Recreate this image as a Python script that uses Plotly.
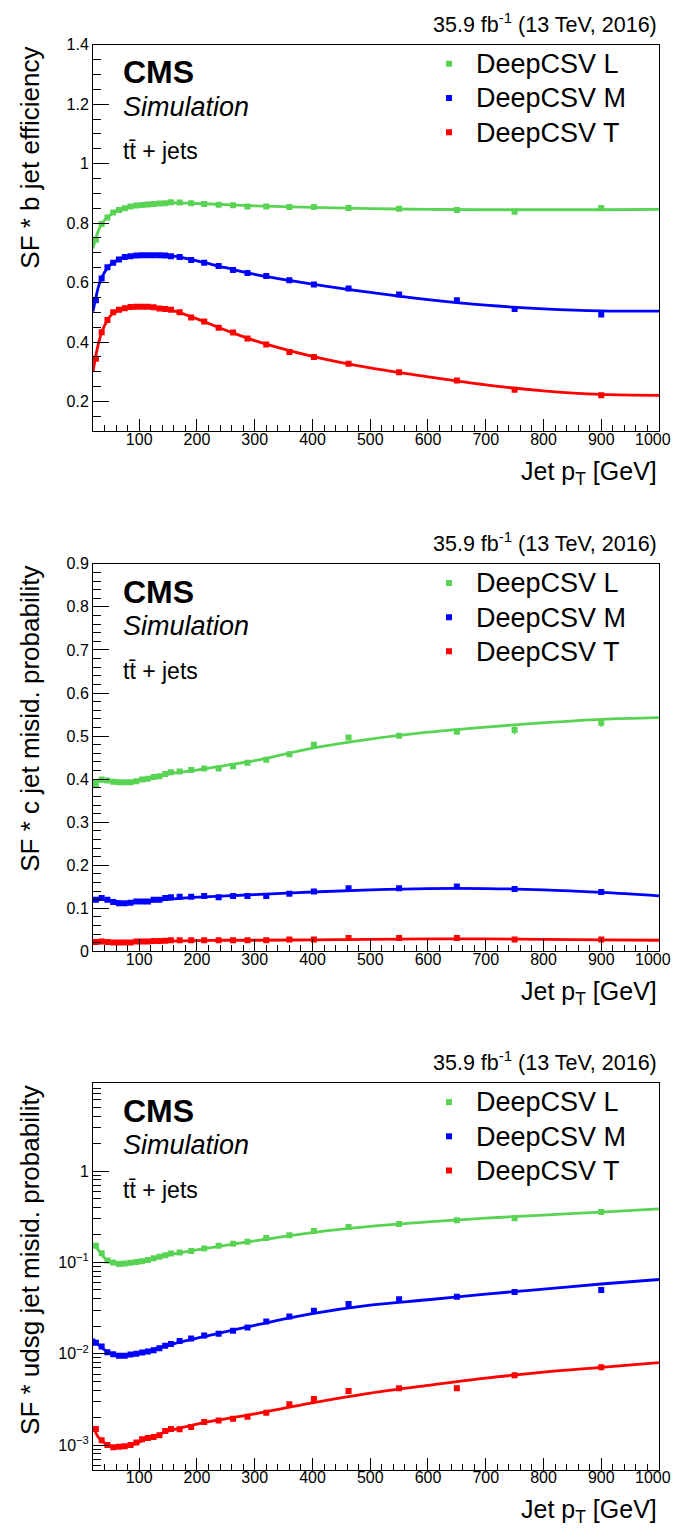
import plotly.graph_objects as go

# pT bin centres (GeV)
pt = [25, 35, 45, 55, 65, 75, 85, 95, 105, 115, 125, 135, 145, 155, 170, 190,
      212.5, 237.5, 262.5, 287.5, 320, 360, 402.5, 462.5, 550, 650, 750, 900]

# SF * b jet efficiency
b_L = [0.744, 0.797, 0.819, 0.836, 0.844, 0.850, 0.856, 0.859, 0.861, 0.863, 0.864, 0.866, 0.867, 0.870,
       0.869, 0.867, 0.864, 0.862, 0.860, 0.856, 0.856, 0.854, 0.854, 0.851, 0.848, 0.844, 0.838, 0.851]
b_M = [0.541, 0.614, 0.652, 0.667, 0.678, 0.686, 0.689, 0.691, 0.692, 0.692, 0.692, 0.692, 0.691, 0.689,
       0.686, 0.676, 0.667, 0.656, 0.642, 0.632, 0.622, 0.608, 0.594, 0.580, 0.560, 0.541, 0.511, 0.493]
b_T = [0.344, 0.433, 0.474, 0.500, 0.509, 0.514, 0.518, 0.519, 0.519, 0.519, 0.517, 0.513, 0.511, 0.509,
       0.500, 0.483, 0.469, 0.448, 0.432, 0.412, 0.392, 0.367, 0.350, 0.327, 0.299, 0.271, 0.240, 0.221]
b_fit_pt = [20, 25, 30, 35, 40, 50, 60, 80, 100, 130, 160, 200, 250, 300, 400, 500, 600, 700, 800, 900, 1000]
b_fit_L = [0.715, 0.750, 0.778, 0.797, 0.810, 0.828, 0.840, 0.853, 0.861, 0.866, 0.868, 0.866, 0.862, 0.858,
           0.853, 0.849, 0.846, 0.845, 0.845, 0.845, 0.846]
b_fit_M = [0.503, 0.550, 0.590, 0.615, 0.635, 0.660, 0.673, 0.688, 0.692, 0.693, 0.689, 0.673, 0.650, 0.628,
           0.595, 0.567, 0.543, 0.524, 0.512, 0.505, 0.504]
b_fit_T = [0.300, 0.355, 0.400, 0.432, 0.455, 0.488, 0.503, 0.515, 0.519, 0.516, 0.505, 0.478, 0.440, 0.405,
           0.352, 0.313, 0.283, 0.256, 0.236, 0.224, 0.221]

# SF * c jet misid. probability
c_L = [0.389, 0.399, 0.397, 0.394, 0.393, 0.393, 0.393, 0.395, 0.399, 0.401, 0.405, 0.407, 0.412, 0.416,
       0.418, 0.421, 0.425, 0.425, 0.430, 0.438, 0.445, 0.458, 0.480, 0.497, 0.501, 0.510, 0.514, 0.531]
c_M = [0.120, 0.124, 0.120, 0.115, 0.112, 0.112, 0.113, 0.116, 0.116, 0.116, 0.120, 0.120, 0.124, 0.126,
       0.127, 0.127, 0.129, 0.126, 0.129, 0.129, 0.129, 0.134, 0.139, 0.147, 0.147, 0.151, 0.145, 0.138]
c_T = [0.022, 0.023, 0.022, 0.021, 0.021, 0.021, 0.021, 0.023, 0.023, 0.023, 0.024, 0.024, 0.025, 0.026,
       0.026, 0.026, 0.026, 0.026, 0.026, 0.026, 0.026, 0.028, 0.028, 0.031, 0.031, 0.031, 0.028, 0.028]
c_fit_pt = [20, 40, 60, 80, 100, 150, 200, 250, 300, 400, 500, 600, 700, 800, 900, 1000]
c_fit_L = [0.396, 0.395, 0.393, 0.393, 0.397, 0.412, 0.421, 0.432, 0.443, 0.472, 0.493, 0.509, 0.521, 0.531, 0.539, 0.543]
c_fit_M = [0.122, 0.120, 0.116, 0.113, 0.114, 0.121, 0.126, 0.129, 0.132, 0.138, 0.143, 0.146, 0.146, 0.143, 0.137, 0.129]
c_fit_T = [0.022, 0.022, 0.022, 0.022, 0.022, 0.024, 0.025, 0.026, 0.026, 0.027, 0.028, 0.029, 0.029, 0.028, 0.027, 0.026]

# SF * udsg jet misid. probability
u_L = [0.152, 0.126, 0.105, 0.100, 0.096, 0.097, 0.099, 0.101, 0.103, 0.106, 0.111, 0.115, 0.120, 0.125,
       0.128, 0.133, 0.142, 0.152, 0.160, 0.168, 0.185, 0.198, 0.220, 0.244, 0.263, 0.290, 0.305, 0.355]
u_M = [0.0132, 0.0120, 0.0104, 0.0099, 0.0095, 0.0095, 0.0098, 0.0100, 0.0103, 0.0106, 0.0109, 0.0115, 0.0122, 0.0128,
       0.0138, 0.0147, 0.0158, 0.0166, 0.0178, 0.0194, 0.0225, 0.0255, 0.0295, 0.0350, 0.0395, 0.0420, 0.0475, 0.0500]
u_T = [0.00150, 0.00113, 0.00100, 0.00095, 0.00096, 0.00097, 0.00100, 0.00107, 0.00116, 0.00120, 0.00123, 0.00128,
       0.00143, 0.00150, 0.00149, 0.00158, 0.00179, 0.00186, 0.00194, 0.00205, 0.00226, 0.00280, 0.00320, 0.00390,
       0.00420, 0.00420, 0.00580, 0.00710]
u_fit_pt = [20, 30, 40, 50, 60, 80, 100, 150, 200, 300, 400, 500, 600, 700, 800, 900, 1000]
u_fit_L = [0.160, 0.135, 0.112, 0.100, 0.097, 0.097, 0.101, 0.121, 0.137, 0.172, 0.212, 0.248, 0.278, 0.305, 0.330, 0.355, 0.385]
u_fit_M = [0.0145, 0.0125, 0.0110, 0.0101, 0.0097, 0.0096, 0.0101, 0.0124, 0.0148, 0.0205, 0.0275, 0.0340, 0.0390,
           0.0450, 0.0510, 0.0580, 0.0650]
u_fit_T = [0.0016, 0.0012, 0.00105, 0.00097, 0.00095, 0.00097, 0.00108, 0.00142, 0.0017, 0.0022, 0.0029, 0.0037,
           0.0045, 0.0054, 0.0063, 0.0071, 0.0080]

# visible stat. uncertainties of the five highest-pT bins (smaller ones are hidden by the markers)
c_L_err = [0.004, 0.004, 0.006, 0.010, 0.010]
u_T_err = [0.0002, 0.0002, 0.0003, 0.0004, 0.0005]

names = ["DeepCSV L", "DeepCSV M", "DeepCSV T"]
colors = ["#59d354", "#0000ff", "#ff0000"]
ytitles = ["SF * b jet efficiency", "SF * c jet misid. probability", "SF * udsg jet misid. probability"]

# page body keeps its default 8px margin, so the figure is 16px smaller than the window
# (nothing may stick out of the figure, or the page gets scrollbars)
W, H = 681, 1540
M = 8
FW, FH = W - 2 * M, H - 2 * M
FONT = "Liberation Sans, Arial, sans-serif"
X0, X1 = 93, 659
frames = [(37, 428), (562, 954), (1087, 1478)]   # frame top, bottom (window px)


def px(x):
    return (x - M) / FW


def py(y):
    return 1 - (y - M) / FH


def txt(text, x, y, size, xanchor="left", **kw):
    return dict(text=text, x=px(x), y=py(y), xref="paper", yref="paper", showarrow=False,
                xanchor=xanchor, yanchor=kw.pop("yanchor", "middle"),
                font=dict(family=FONT, size=size, color="black"), **kw)


panels = [
    (b_fit_pt, [b_fit_L, b_fit_M, b_fit_T], [b_L, b_M, b_T], [None, None, None]),
    (c_fit_pt, [c_fit_L, c_fit_M, c_fit_T], [c_L, c_M, c_T], [c_L_err, None, None]),
    (u_fit_pt, [u_fit_L, u_fit_M, u_fit_T], [u_L, u_M, u_T], [None, None, u_T_err]),
]

fig = go.Figure()
for i, (fpt, fits, pts, errs) in enumerate(panels):
    xa = "x" if i == 0 else f"x{i+1}"
    ya = "y" if i == 0 else f"y{i+1}"
    lg = "legend" if i == 0 else f"legend{i+1}"
    for k in range(3):
        fig.add_trace(go.Scatter(x=fpt, y=fits[k], mode="lines", xaxis=xa, yaxis=ya,
                                 line=dict(color=colors[k], width=2.8, shape="spline", smoothing=1.0),
                                 showlegend=False, hoverinfo="skip"))
    for k in range(3):
        err = None
        if errs[k] is not None:
            err = dict(type="data", array=[0] * (len(pt) - len(errs[k])) + errs[k],
                       width=0, thickness=1.5, color=colors[k])
        fig.add_trace(go.Scatter(x=pt, y=pts[k], mode="markers", xaxis=xa, yaxis=ya,
                                 name=f"<span style='font-size:27px'>{names[k]}</span>",
                                 marker=dict(symbol="square", size=6, color=colors[k]),
                                 error_y=err, legend=lg))

axis_common = dict(showline=True, linecolor="black", linewidth=1, mirror=True, ticks="inside",
                   tickcolor="black", showgrid=False, zeroline=False,
                   tickfont=dict(family=FONT, size=16, color="black"))

layout = dict(width=FW, height=FH, margin=dict(l=0, r=0, t=0, b=0),
              paper_bgcolor="white", plot_bgcolor="white", font=dict(family=FONT, color="black"))

yset = [
    dict(range=[0.1, 1.4], dtick=0.2, tick0=0, minor=dict(ticks="inside", ticklen=8, dtick=0.05, tickcolor="black")),
    dict(range=[0, 0.9], dtick=0.1, tick0=0, minor=dict(ticks="inside", ticklen=8, dtick=0.02, tickcolor="black")),
    dict(type="log", range=[-3.268, 0.964], tickvals=[1e-3, 1e-2, 1e-1, 1],
         ticktext=["10<sup>\u22123</sup>", "10<sup>\u22122</sup>", "10<sup>\u22121</sup>", "1"],
         minor=dict(ticks="inside", ticklen=8, tickcolor="black",
                    tickvals=[m * 10 ** e for e in range(-4, 1) for m in range(2, 10)])),
]

annotations = []
for i, (top, bot) in enumerate(frames):
    sfx = "" if i == 0 else str(i + 1)
    layout["xaxis" + sfx] = dict(axis_common, domain=[px(X0), px(X1)], anchor="y" + sfx,
                                 range=[20, 1000], dtick=100, tick0=0, ticklen=12, ticklabelstandoff=-7,
                                 minor=dict(ticks="inside", ticklen=6, dtick=20, tickcolor="black"))
    layout["yaxis" + sfx] = dict(axis_common, domain=[py(bot), py(top)], anchor="x" + sfx,
                                 ticklen=16, **yset[i])
    layout["legend" + sfx] = dict(x=px(422), y=py(top - 3), xanchor="left", yanchor="top",
                                  bgcolor="rgba(0,0,0,0)", itemwidth=44, tracegroupgap=0,
                                  font=dict(family=FONT, size=24, color="black"))
    annotations += [
        # last x tick label sits on the figure edge, so it is drawn flush with it
        txt("1000", W - M, bot + 8, 16, xanchor="right"),
        txt("35.9 fb<sup>-1</sup> (13 TeV, 2016)", X1, top - 22, 21.5, xanchor="right"),
        txt("Jet p<sub>T</sub> [GeV]", X1, bot + 42, 25, xanchor="right"),
        txt(ytitles[i], 30, top, 26, xanchor="center", yanchor="top", textangle=-90),
        txt("<b>CMS</b>", 121, top + 28, 32),
        txt("<i>Simulation</i>", 121, top + 63, 27),
        txt("tt\u0304 + jets", 121, top + 108, 23),
    ]
layout["annotations"] = annotations

fig.update_layout(**layout)
fig.write_html("out.html", config={"displayModeBar": False})
